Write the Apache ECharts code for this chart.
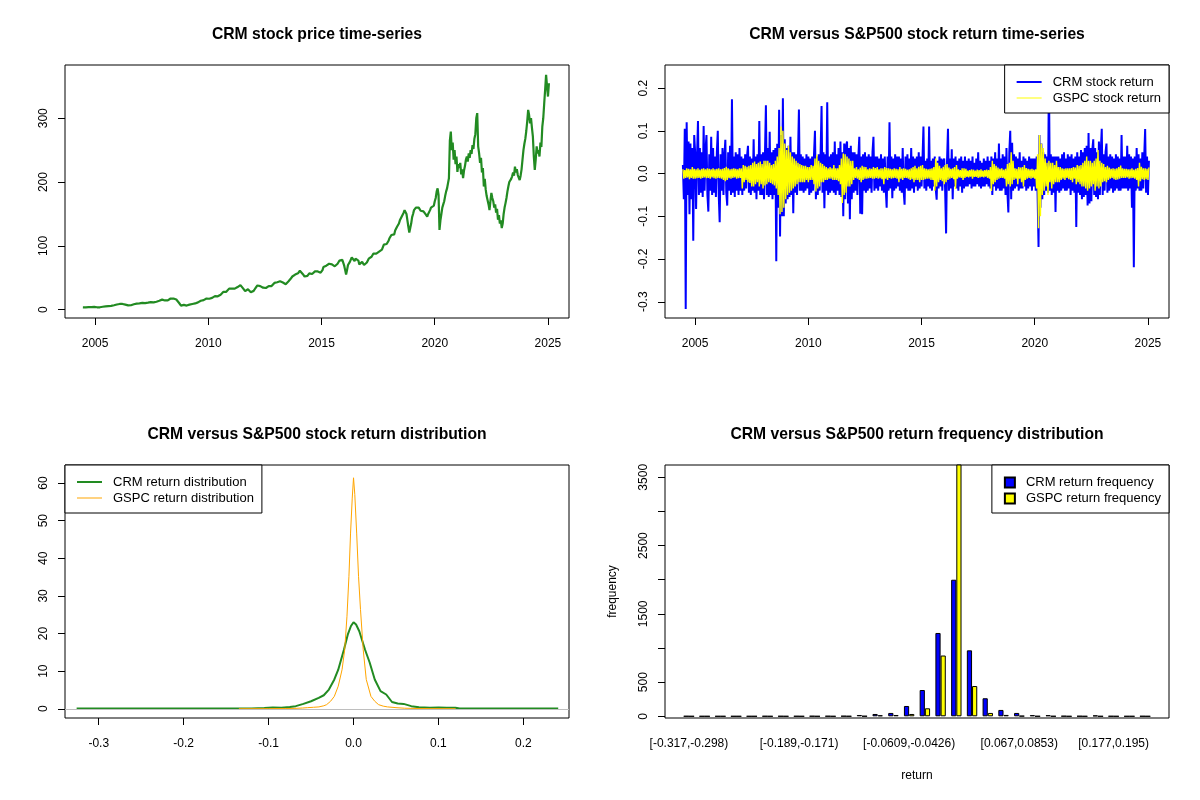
<!DOCTYPE html>
<html><head><meta charset="utf-8">
<script src="https://cdn.jsdelivr.net/npm/echarts@6.0.0/dist/echarts.min.js"></script>
<style>html,body{margin:0;padding:0;background:#fff}#c{width:1200px;height:800px}</style>
</head><body><div id="c"></div>
<script>
const FONT = '"Liberation Sans", Arial, Helvetica, sans-serif';

// ---- tick values / labels ----
const yearTicks = [2005, 2010, 2015, 2020, 2025];
const priceTicks = [0, 100, 200, 300];
const returnTicks = [-0.3, -0.2, -0.1, 0, 0.1, 0.2];
const densityXTicks = [-0.3, -0.2, -0.1, 0, 0.1, 0.2];
const densityYTicks = [0, 10, 20, 30, 40, 50, 60];
const freqTicks = [0, 500, 1000, 1500, 2000, 2500, 3000, 3500];
const freqTickLabels = [0, 500, 1500, 2500, 3500];
const binLabelShown = [0, 7, 14, 21, 27];

// ---- CRM price, two samples per month from mid-2004 ----
const priceStart = 2004.46;
const priceStep = 1 / 24;
const crmPrice = [
  3.6,3.4,3.3,3.5,3.7,3.6,3.9,4.0,4.2,4.1,4.3,4.4,4.3,
  4.2,4.0,3.8,3.9,3.6,3.8,4.2,4.4,4.6,4.8,5.0,5.2,5.5,5.4,5.6,5.7,5.8,6.0,6.2,6.6,7.0,7.4,7.8,8.2,
  8.5,8.8,9.0,9.4,9.4,9.0,9.0,8.5,8.0,7.5,7.0,6.8,6.5,6.8,7.0,7.5,8.0,8.5,9.0,9.2,9.5,9.8,9.5,10.0,
  10.5,10.6,10.8,10.5,10.5,10.3,10.5,10.8,11.0,11.2,11.5,11.8,12.0,11.6,11.5,11.2,12.0,12.5,13.0,13.5,14.0,14.8,15.5,15.8,
  13.5,13.0,14.5,14.0,14.0,14.5,15.5,16.5,17.5,18.0,18.0,17.5,17.0,16.5,16.0,15.0,13.0,10.5,7.5,6.5,6.0,6.5,7.5,7.0,
  6.8,6.5,7.5,7.8,8.0,8.3,8.5,9.0,9.5,9.6,9.8,10.2,10.5,11.5,13.0,13.2,14.0,14.2,14.5,15.0,15.5,16.5,17.5,17.8,
  17.5,17.2,17.0,17.8,18.5,19.5,21.0,21.2,21.5,21.2,21.0,21.5,22.0,23.5,25.0,26.5,28.0,28.2,28.5,28.0,28.0,30.0,33.0,33.5,
  33.5,33.0,34.0,33.5,33.0,33.5,34.5,35.5,37.0,38.0,38.5,37.5,36.0,33.0,30.0,29.0,28.5,30.0,32.0,30.5,29.0,27.5,25.5,26.5,
  29.5,31.5,34.0,36.0,38.0,38.5,39.0,37.0,35.0,34.5,34.5,33.5,33.0,34.0,35.0,36.0,37.0,37.5,37.5,37.0,38.0,40.0,42.0,42.5,
  44.0,43.0,42.0,43.0,44.5,44.0,44.0,42.5,41.0,40.5,40.0,41.5,43.0,44.5,46.0,48.0,50.0,52.0,55.0,54.0,55.0,56.0,55.0,57.0,
  59.0,61.0,62.0,60.0,56.0,54.0,52.0,51.0,50.0,53.0,56.0,57.0,57.0,56.5,56.0,57.0,58.0,60.0,63.0,62.0,60.0,59.0,59.0,58.0,
  56.0,62.0,67.0,68.0,68.0,69.0,70.0,71.0,72.0,71.0,70.0,71.0,72.0,70.0,68.0,66.0,69.0,72.0,75.0,77.0,79.0,78.0,78.0,77.0,
  69.0,62.0,55.0,62.0,70.0,72.0,75.0,78.0,82.0,80.0,79.0,76.0,80.0,81.0,79.0,77.0,71.0,72.0,74.0,75.0,73.0,70.0,68.0,70.0,
  74.0,77.0,80.0,81.0,82.0,83.0,85.0,88.0,90.0,89.0,88.0,87.0,88.0,91.0,93.0,92.0,94.0,97.0,102.0,103.0,104.0,103.0,104.0,108.0,
  112,115,117,119,120,118,124,127,130,133,135,140,143,146,148,152,156,158,150,140,130,121,128,135,
  145,150,156,158,160,162,162,160,158,155,153,155,154,152,150,148,146,150,152,156,160,158,162,163,
  170,175,185,190,180,125,140,150,160,165,170,178,185,190,198,206,265,279,250,262,235,250,228,240,
  216,228,222,230,212,220,206,218,225,235,240,232,245,238,250,244,258,252,268,275,300,308,256,245,
  230,238,215,222,193,205,188,178,177,165,156,170,183,175,170,160,165,152,158,141,148,135,140,128,
  135,150,160,167,175,185,193,200,198,205,209,215,210,224,215,220,211,208,203,210,220,235,250,260,
  268,280,295,313,305,292,300,285,271,240,219,235,256,245,250,240,262,255,287,300,323,345,368,350,
  334,355
];

// ---- daily-return envelope samples (two per month) ----
const returnStart = 2004.46;
const returnStep = 1 / 24;
const crmReturn = [
  .02,-.06,.105,-.317,.12,-.05,.075,-.095,.07,-.06,.06,-.157,.09,
  .05,-.083,.04,.123,-.05,.06,-.045,.05,-.055,.111,-.04,.055,.09,-.05,-.089,.045,-.04,.086,-.05,.06,-.045,.04,-.055,.05,
  .10,-.05,-.114,.045,-.04,.06,-.05,.04,.079,-.045,-.075,.05,-.04,.065,-.05,.174,-.045,.04,-.055,.05,-.04,.045,-.05,.06,
  -.04,.04,-.05,.035,-.04,.045,-.035,.04,.065,-.045,.04,-.05,.035,-.04,.08,-.045,.04,-.06,.045,-.04,.123,-.05,.045,-.05,
  .05,-.06,.045,.16,-.05,.06,-.055,.098,-.05,.05,-.06,.055,-.05,.06,-.205,.07,-.08,.149,-.147,.09,-.10,.176,-.10,.08,
  -.07,.06,-.06,.065,-.055,.086,-.05,.05,-.093,.05,-.045,.045,-.05,.04,.15,-.04,.045,-.04,.04,-.045,.035,-.04,.045,-.035,
  .04,-.05,.035,-.045,.04,-.04,.045,.10,-.06,.04,-.05,.045,-.04,.05,.158,-.045,.05,-.081,.045,-.04,.167,-.05,.04,-.045,
  .045,-.04,.05,-.045,.075,-.05,.045,-.04,.06,-.05,.075,-.055,.05,-.10,.07,-.06,.065,.075,-.07,.06,-.107,.065,-.06,.05,
  -.045,.05,-.04,.045,-.05,.04,.086,-.094,.04,-.095,.045,-.04,.05,-.045,.04,-.04,.045,-.035,.04,-.045,.05,.086,-.04,.04,
  -.035,.04,-.04,.035,-.03,.045,-.04,.035,-.045,.04,-.035,-.08,.04,-.04,.12,-.035,.04,-.058,.035,-.04,.045,-.035,.04,-.03,
  .04,-.04,.035,-.045,.06,-.04,-.073,.04,-.035,.045,-.04,.035,-.04,.06,-.035,.04,-.045,.035,-.03,.04,-.04,.05,-.035,.04,
  -.03,.035,.11,-.035,.03,-.04,.035,-.03,.11,-.035,.03,-.04,.035,-.03,.04,-.035,-.061,.03,-.035,.04,-.03,.035,-.04,.03,
  .035,-.04,-.14,.03,.105,-.04,.035,-.035,.057,-.06,.035,-.03,.04,-.035,.03,-.04,.035,-.03,.04,-.045,.03,-.035,.04,-.03,
  .03,-.03,.035,-.025,.03,-.035,.04,-.03,.025,-.03,.035,-.025,.05,-.03,.03,-.035,.025,-.03,.035,-.03,.03,-.025,.04,-.03,
  .03,-.035,.04,-.05,.035,-.03,.05,-.04,.035,-.035,.07,-.04,.035,-.04,.045,-.035,.04,-.05,.06,-.045,-.091,.05,.10,-.06,
  .072,-.04,.045,-.035,.04,-.03,.035,-.04,.05,-.035,.03,-.035,.04,-.03,.035,-.04,.03,-.035,.04,-.03,.035,-.04,.035,-.03,
  .035,-.04,.04,-.05,-.172,.09,-.08,.07,-.06,.05,-.05,.045,-.04,.04,-.045,.23,-.04,.045,-.05,.04,-.045,.04,-.09,.04,
  -.04,.04,-.045,.035,-.04,.045,-.035,.05,-.04,.035,-.04,.045,-.035,.04,-.05,.045,-.04,.035,-.045,.04,-.125,.05,-.045,.04,
  -.05,.055,-.06,.05,-.055,.06,-.05,.065,-.075,.095,-.07,.06,-.065,.055,.08,-.05,.06,-.055,.05,-.06,.075,-.05,.055,.105,
  -.05,.045,-.04,.05,.07,-.045,.04,-.04,.045,-.035,.04,-.045,.035,-.04,.045,-.035,.04,-.04,.035,-.04,.09,-.035,.04,-.035,
  .04,-.035,.065,-.04,.045,-.035,.04,-.08,.035,-.219,.04,-.04,.06,-.035,.045,-.04,.035,-.04,.05,-.035,.04,.104,-.045,.04,
  -.05,.03
];
const gspcReturn = [
  .01,-.012,.008,-.01,.012,-.009,.011,-.013,.01,-.01,.015,-.012,.011,
  -.012,.01,-.011,.012,-.01,.009,-.012,.011,-.01,.012,-.009,.01,-.011,.012,-.01,.011,-.012,.01,-.009,.012,-.011,.01,-.012,.011,
  -.01,.012,-.011,.01,-.012,.011,-.015,.013,-.018,.016,-.015,.012,-.011,.01,-.012,.011,-.01,.012,-.009,.011,-.012,.01,-.011,.012,
  -.01,.012,-.035,.02,-.02,.018,-.015,.016,-.02,.018,-.022,.02,-.03,.025,-.03,.028,-.025,.022,-.02,.025,-.03,.028,-.025,.022,
  -.035,.03,-.028,.03,-.025,.03,-.02,.025,-.022,.02,-.025,.022,-.028,.03,-.035,.04,-.05,.06,-.095,.11,-.09,.1,-.08,.07,
  -.06,.055,-.05,.065,-.045,.05,-.04,.04,-.035,.035,-.03,.03,-.025,.025,-.02,.022,-.02,.02,-.02,.018,-.02,.018,-.015,.015,
  -.02,.015,-.015,.02,-.015,.018,-.025,.035,-.042,.044,-.035,.03,-.03,.025,-.02,.022,-.02,.018,-.015,.015,-.015,.012,-.012,.015,
  -.012,.012,-.015,.02,-.015,.012,-.015,.012,-.018,.02,-.025,.035,-.069,.047,-.05,.045,-.045,.04,-.03,.035,-.03,.03,-.025,.03,
  -.015,.012,-.01,.015,-.012,.01,-.015,.014,-.02,.018,-.015,.016,-.012,.015,-.012,.01,-.011,.012,-.01,.011,-.012,.015,-.012,.013,
  -.01,.015,-.012,.01,-.011,.012,-.013,.012,-.025,.015,-.012,.013,-.015,.012,-.01,.011,-.012,.01,-.011,.012,-.01,.011,-.012,.01,
  -.02,.015,-.012,.011,-.015,.012,-.01,.011,-.01,.009,-.012,.01,-.015,.012,-.013,.015,-.02,.018,-.015,.012,-.015,.016,-.02,.018,
  -.015,.02,-.015,.012,-.013,.011,-.012,.01,-.012,.011,-.015,.012,-.015,.015,-.04,.035,-.03,.025,-.02,.018,-.015,.012,-.018,.016,
  -.025,.02,-.02,.022,-.015,.014,-.012,.011,-.01,.012,-.013,.015,-.036,.02,-.012,.01,-.009,.008,-.01,.012,-.015,.012,-.01,.011,
  -.008,.007,-.009,.008,-.007,.01,-.012,.009,-.008,.007,-.008,.009,-.01,.008,-.009,.01,-.008,.007,-.009,.008,-.007,.009,-.01,.008,
  -.012,.015,-.041,.03,-.025,.022,-.02,.018,-.015,.014,-.012,.011,-.01,.012,-.01,.009,-.012,.011,-.03,.022,-.025,.025,-.03,.05,
  -.025,.03,-.015,.012,-.012,.011,-.025,.015,-.012,.014,-.02,.015,-.03,.02,-.015,.013,-.012,.011,-.01,.01,-.012,.011,-.01,.009,
  -.012,.01,-.035,.045,-.128,.09,-.1,.07,-.05,.06,-.04,.035,-.03,.025,-.05,.03,-.02,.025,-.035,.025,-.025,.02,-.02,.03,
  -.02,.015,-.02,.015,-.015,.012,-.012,.011,-.015,.012,-.01,.012,-.013,.012,-.015,.013,-.02,.015,-.012,.014,-.025,.02,-.02,.018,
  -.025,.02,-.03,.025,-.03,.03,-.035,.04,-.04,.03,-.035,.03,-.03,.025,-.025,.03,-.04,.035,-.03,.055,-.035,.03,-.03,.025,
  -.02,.022,-.018,.015,-.02,.018,-.015,.014,-.012,.011,-.01,.012,-.013,.011,-.015,.012,-.014,.015,-.012,.019,-.01,.012,-.01,.011,
  -.01,.011,-.009,.01,-.012,.01,-.011,.012,-.01,.009,-.012,.011,-.015,.013,-.03,.025,-.018,.016,-.013,.012,-.015,.012,-.013,.011,
  -.015,.014
];

// ---- kernel density curves ----
const crmDensityX = [-0.326,-0.3,-0.25,-0.2,-0.15,-0.12,-0.105,-0.095,-0.085,-0.075,-0.068,-0.059,-0.05,-0.041,-0.035,-0.029,-0.0226,-0.018,-0.0113,-0.0068,-0.003,0.0,0.003,0.0068,0.0136,0.019,0.025,0.0318,0.0385,0.0453,0.052,0.059,0.068,0.077,0.09,0.1,0.11,0.12,0.125,0.15,0.2,0.241];
const crmDensityY = [0.05,0.05,0.05,0.06,0.08,0.1,0.2,0.35,0.3,0.5,0.7,1.3,2.0,2.9,3.6,5.1,7.8,10.4,15.7,19.7,22.0,23.0,22.4,20.6,15.7,12.3,7.8,4.7,3.8,1.8,1.4,1.3,0.7,0.4,0.3,0.35,0.3,0.3,0.1,0.06,0.05,0.05];
const gspcDensityX = [-0.135,-0.1,-0.08,-0.07,-0.06,-0.054,-0.047,-0.0407,-0.035,-0.0317,-0.027,-0.0226,-0.018,-0.0135,-0.0104,-0.0077,-0.0054,-0.0035,-0.0015,0.0,0.0015,0.0037,0.0059,0.0082,0.0114,0.015,0.0205,0.025,0.0295,0.035,0.04,0.05,0.06,0.07,0.09,0.12];
const gspcDensityY = [0.02,0.04,0.08,0.1,0.2,0.3,0.4,0.5,0.8,1.1,2.0,3.3,6.0,10.4,15.7,24.6,35.2,46.7,56,61.4,57,46.7,35.2,26.4,15.7,7.8,3.3,2.0,1.1,0.7,0.5,0.3,0.15,0.1,0.05,0.02];

// ---- histogram bins and counts ----
const binLabels = ['[-0.317,-0.298)','[-0.298,-0.28)','[-0.28,-0.262)','[-0.262,-0.244)','[-0.244,-0.225)','[-0.225,-0.207)','[-0.207,-0.189)','[-0.189,-0.171)','[-0.171,-0.152)','[-0.152,-0.134)','[-0.134,-0.116)','[-0.116,-0.0974)','[-0.0974,-0.0792)','[-0.0792,-0.0609)','[-0.0609,-0.0426)','[-0.0426,-0.0244)','[-0.0244,-0.00609)','[-0.00609,0.0122)','[0.0122,0.0305)','[0.0305,0.0487)','[0.0487,0.067)','[0.067,0.0853)','[0.0853,0.104)','[0.104,0.122)','[0.122,0.14)','[0.14,0.158)','[0.158,0.177)','[0.177,0.195)','[0.195,0.213)','[0.213,0.231]'];
const crmFreq  = [1,0,0,0,0,1,1,1,2,2,3,19,34,49,151,385,1220,2000,966,264,93,49,17,17,3,2,12,1,0,1];
const gspcFreq = [0,0,0,0,0,0,0,0,0,0,1,2,15,19,34,117,890,3750,443,49,20,5,1,1,0,0,0,0,0,0];

// ---- build ----
const priceData = crmPrice.map((v, i) => [priceStart + i * priceStep, v]);
const crmRetData = crmReturn.map((v, i) => [returnStart + i * returnStep, v]);
const gspcRetData = gspcReturn.map((v, i) => [returnStart + i * returnStep, v]);
const crmDensData = crmDensityX.map((x, i) => [x, crmDensityY[i]]);
const gspcDensData = gspcDensityX.map((x, i) => [x, gspcDensityY[i]]);
const crmBarData = crmFreq.map((v, i) => [i, v]);
const gspcBarData = gspcFreq.map((v, i) => [i, v]);

const GRIDS = [
  {left: 65, top: 65, width: 504, height: 253},
  {left: 665, top: 65, width: 504, height: 253},
  {left: 65, top: 465, width: 504, height: 253},
  {left: 665, top: 465, width: 504, height: 253}
];

function xAxis(grid, min, max, ticks, labels, fmt, showTicks, extra) {
  return Object.assign({
    type: 'value', gridIndex: grid, min: min, max: max, position: 'bottom',
    axisLine: {show: false, onZero: false},
    splitLine: {show: false},
    axisTick: {show: showTicks, length: 7, inside: false, customValues: ticks, lineStyle: {color: '#000', width: 1}},
    axisLabel: {customValues: labels, formatter: fmt, color: '#000', fontSize: 12, fontFamily: FONT, margin: 20}
  }, extra || {});
}
function yAxis(grid, min, max, ticks, labels, fmt, extra) {
  return Object.assign({
    type: 'value', gridIndex: grid, min: min, max: max, position: 'left',
    axisLine: {show: false, onZero: false},
    splitLine: {show: false},
    axisTick: {show: true, length: 7, inside: false, customValues: ticks, lineStyle: {color: '#000', width: 1}},
    axisLabel: {customValues: labels, formatter: fmt, rotate: 90, color: '#000', fontSize: 12, fontFamily: FONT, margin: 15}
  }, extra || {});
}

// legend icons: a horizontal stroke inside the icon box (thick and thin)
const ICON_THICK = 'path://M0,0M0,6L25,6L25,8L0,8ZM25,14';
const ICON_THIN = 'path://M0,0M0,6.5L25,6.5L25,7.5L0,7.5ZM25,14';

const legendBase = {
  orient: 'vertical', backgroundColor: '#fff', borderColor: '#000', borderWidth: 1, borderRadius: 0,
  padding: [10, 8, 8, 12], itemGap: 2, itemWidth: 25, itemHeight: 14, selectedMode: false,
  textStyle: {fontSize: 13, color: '#000', fontFamily: FONT, padding: [0, 0, 0, 6]}
};

const titleFont = 'bold 15.7px "Liberation Sans", Arial, sans-serif';
function titleText(txt, x, y) {
  return {type: 'text', x: x, y: y, z: 100, style: {text: txt, font: titleFont, fill: '#000', textAlign: 'center', textVerticalAlign: 'middle', align: 'center', verticalAlign: 'middle'}};
}

const option = {
  animation: false,
  backgroundColor: '#fff',
  grid: GRIDS.map(g => Object.assign({show: true, borderColor: '#000', borderWidth: 1, backgroundColor: 'transparent', containLabel: false}, g)),
  graphic: [
    titleText('CRM stock price time-series', 317, 35),
    titleText('CRM versus S&P500 stock return time-series', 917, 35),
    titleText('CRM versus S&P500 stock return distribution', 317, 435),
    titleText('CRM versus S&P500 return frequency distribution', 917, 435)
  ],
  legend: [
    Object.assign({}, legendBase, {right: 31, top: 65, data: [
      {name: 'CRM stock return', icon: ICON_THICK},
      {name: 'GSPC stock return', icon: ICON_THIN}]}),
    Object.assign({}, legendBase, {left: 65, top: 465, data: [
      {name: 'CRM return distribution', icon: ICON_THICK},
      {name: 'GSPC return distribution', icon: ICON_THIN}]}),
    Object.assign({}, legendBase, {right: 31, top: 465, icon: 'rect', itemWidth: 10, itemHeight: 10, itemGap: 3,
      padding: [11, 8, 8, 12], data: ['CRM return frequency', 'GSPC return frequency']})
  ],
  xAxis: [
    xAxis(0, 2003.67, 2025.93, yearTicks, yearTicks, v => String(v), true),
    xAxis(1, 2003.67, 2025.93, yearTicks, yearTicks, v => String(v), true),
    xAxis(2, -0.3397, 0.2537, densityXTicks, densityXTicks, v => v.toFixed(1), true),
    xAxis(3, -1.52, 30.52, binLabelShown, binLabelShown, v => binLabels[Math.round(v)], false,
      {name: 'return', nameLocation: 'middle', nameGap: 52, nameTextStyle: {color: '#000', fontSize: 12, fontFamily: FONT}})
  ],
  yAxis: [
    yAxis(0, -13, 383.4, priceTicks, priceTicks, v => String(v)),
    yAxis(1, -0.338, 0.254, returnTicks, returnTicks, v => v.toFixed(1)),
    yAxis(2, -2.45, 64.8, densityYTicks, densityYTicks, v => String(v)),
    yAxis(3, -25, 3680, freqTicks, freqTickLabels, v => String(v),
      {name: 'frequency', nameLocation: 'middle', nameRotate: 90, nameGap: 46, nameTextStyle: {color: '#000', fontSize: 12, fontFamily: FONT}})
  ],
  series: [
    {name: 'CRM price', type: 'line', xAxisIndex: 0, yAxisIndex: 0, data: priceData, symbol: 'none',
      lineStyle: {color: '#228B22', width: 2.2}, itemStyle: {color: '#228B22'}, silent: true},
    {name: 'CRM stock return', type: 'line', xAxisIndex: 1, yAxisIndex: 1, data: crmRetData, symbol: 'none',
      lineStyle: {color: '#0000FF', width: 2}, itemStyle: {color: '#0000FF'}, silent: true},
    {name: 'GSPC stock return', type: 'line', xAxisIndex: 1, yAxisIndex: 1, data: gspcRetData, symbol: 'none',
      lineStyle: {color: '#FFFF00', width: 1.4}, itemStyle: {color: '#FFFF00'}, silent: true},
    {name: 'CRM return distribution', type: 'line', xAxisIndex: 2, yAxisIndex: 2, data: crmDensData, symbol: 'none',
      lineStyle: {color: '#228B22', width: 2}, itemStyle: {color: '#228B22'}, silent: true,
      markLine: {silent: true, symbol: 'none', label: {show: false}, lineStyle: {color: '#BEBEBE', type: 'solid', width: 1},
        data: [{yAxis: 0}]}},
    {name: 'GSPC return distribution', type: 'line', xAxisIndex: 2, yAxisIndex: 2, data: gspcDensData, symbol: 'none',
      lineStyle: {color: '#FFA500', width: 1}, itemStyle: {color: '#FFA500'}, silent: true},
    {name: 'CRM return frequency', type: 'bar', xAxisIndex: 3, yAxisIndex: 3, data: crmBarData, barWidth: 5.2, barGap: '0%',
      itemStyle: {color: '#0000FF', borderColor: '#000', borderWidth: 1}, silent: true, clip: true},
    {name: 'GSPC return frequency', type: 'bar', xAxisIndex: 3, yAxisIndex: 3, data: gspcBarData, barWidth: 5.2, barGap: '0%',
      itemStyle: {color: '#FFFF00', borderColor: '#000', borderWidth: 1}, silent: true, clip: true}
  ]
};

const chart = echarts.init(document.getElementById('c'), null, {renderer: 'canvas'});
chart.setOption(option);
</script>
</body></html>
